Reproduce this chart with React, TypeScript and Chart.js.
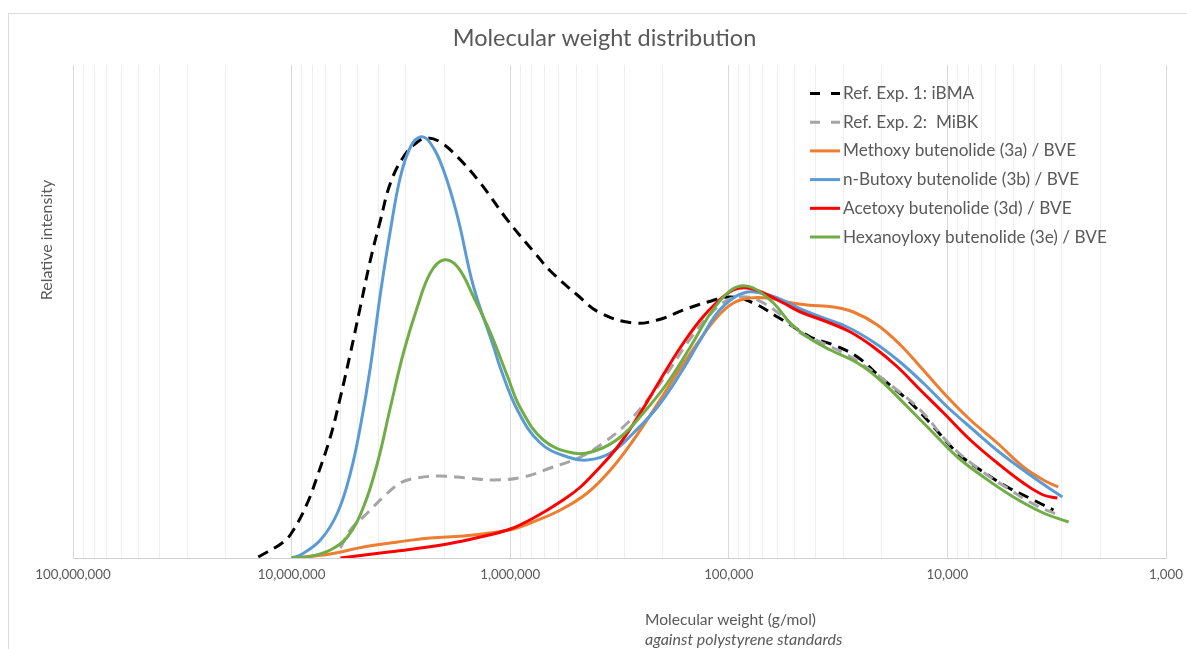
import React, { useEffect, useRef } from "react";
import { Chart, registerables } from "chart.js";

Chart.register(...registerables);

const chartTitle = "Molecular weight distribution";
const xAxisTitle = "Molecular weight (g/mol)";
const xAxisSubtitle = "against polystyrene standards";
const yAxisTitle = "Relative intensity";

const xDecades = [100000000, 10000000, 1000000, 100000, 10000, 1000];
const xTickLabels = ["100,000,000", "10,000,000", "1,000,000", "100,000", "10,000", "1,000"];
const minorMultipliers = [2, 3, 4, 5, 6, 7, 8, 9];

const seriesNames = [
  "Ref. Exp. 1: iBMA",
  "Ref. Exp. 2:  MiBK",
  "Methoxy butenolide (3a) / BVE",
  "n-Butoxy butenolide (3b) / BVE",
  "Acetoxy butenolide (3d) / BVE",
  "Hexanoyloxy butenolide (3e) / BVE",
];
const seriesColors = ["#000000", "#A5A5A5", "#ED7D31", "#5B9BD5", "#FF0000", "#70AD47"];
const seriesDashed = [true, true, false, false, false, false];

// Ref. Exp. 1: iBMA
const ref1MW = [1.42e7, 1.09e7, 9.81e6, 8.47e6, 7.54e6, 6.65e6, 5.98e6, 5.38e6, 4.85e6, 4.36e6, 3.92e6, 3.53e6, 3.08e6, 2.66e6, 2.39e6, 2.09e6, 1.74e6, 1.37e6, 1.03e6, 7.51e5, 6.55e5, 4.93e5, 3.87e5, 2.73e5, 2.12e5, 1.61e5, 1.25e5, 9.83e4, 7.72e4, 5.99e4, 5.4e4, 4.23e4, 3.32e4, 2.58e4, 2.03e4, 1.52e4, 1.2e4, 9.0e3, 7.07e3, 5.32e3, 4.04e3, 3.27e3];
const ref1Int = [1, 16, 28, 55, 85, 121, 161, 205, 251, 298, 338, 375, 401, 416, 420, 416, 401, 375, 338, 302, 287, 263, 245, 235, 238, 248, 256, 261, 255, 241, 235, 221, 213, 201, 181, 158, 135, 105, 88, 71, 58, 48];

// Ref. Exp. 2: MiBK
const ref2MW = [5.98e6, 5.38e6, 4.5e6, 3.8e6, 3.18e6, 2.66e6, 2.09e6, 1.57e6, 1.19e6, 8.7e5, 6.55e5, 4.77e5, 3.75e5, 2.91e5, 2.36e5, 1.91e5, 1.55e5, 1.25e5, 1.015e5, 8.22e4, 6.94e4, 5.63e4, 4.7e4, 3.81e4, 2.87e4, 2.25e4, 1.77e4, 1.33e4, 9.69e3, 7.07e3, 5.15e3, 3.96e3, 3.11e3];
const ref2Int = [10, 28, 45, 61, 75, 80, 82, 80, 78, 81, 90, 101, 115, 135, 158, 185, 215, 241, 258, 261, 255, 241, 225, 216, 203, 188, 171, 148, 113, 88, 68, 53, 43];

// Methoxy butenolide (3a) / BVE
const methoxyMW = [1.0e7, 6.65e6, 4.69e6, 3.28e6, 2.32e6, 1.64e6, 1.14e6, 9.67e5, 8.08e5, 5.89e5, 4.44e5, 3.48e5, 2.73e5, 2.21e5, 1.72e5, 1.39e5, 1.13e5, 9.53e4, 7.97e4, 6.66e4, 5.4e4, 4.37e4, 3.32e4, 2.69e4, 2.09e4, 1.64e4, 1.29e4, 1.0e4, 7.85e3, 5.91e3, 4.49e3, 3.64e3, 3.11e3];
const methoxyInt = [0, 4, 11, 16, 20, 22, 26, 29, 35, 48, 65, 88, 118, 148, 185, 215, 241, 255, 260, 260, 256, 253, 251, 246, 233, 213, 188, 161, 138, 115, 91, 78, 71];

// n-Butoxy butenolide (3b) / BVE
const butoxyMW = [1.0e7, 9.11e6, 7.38e6, 6.17e6, 5.38e6, 4.85e6, 4.36e6, 3.92e6, 3.53e6, 3.18e6, 2.86e6, 2.58e6, 2.32e6, 2.02e6, 1.74e6, 1.47e6, 1.19e6, 1.109e6, 9.27e5, 7.28e5, 5.47e5, 4.44e5, 3.48e5, 2.73e5, 2.12e5, 1.66e5, 1.35e5, 1.13e5, 9.53e4, 8.22e4, 7.17e4, 5.99e4, 4.7e4, 3.69e4, 2.87e4, 2.18e4, 1.69e4, 1.29e4, 1.0e4, 7.6e3, 5.72e3, 4.31e3, 3.49e3, 2.98e3];
const butoxyInt = [0, 3, 18, 45, 85, 131, 191, 265, 328, 381, 411, 421, 415, 388, 341, 271, 211, 190, 148, 115, 101, 98, 105, 125, 151, 185, 218, 245, 260, 266, 265, 260, 249, 240, 231, 216, 198, 175, 151, 128, 105, 85, 71, 61];

// Acetoxy butenolide (3d) / BVE
const acetoxyMW = [5.98e6, 3.92e6, 2.77e6, 1.94e6, 1.37e6, 9.98e5, 7.83e5, 6.76e5, 5.47e5, 4.77e5, 4.16e5, 3.23e5, 2.54e5, 2.06e5, 1.66e5, 1.35e5, 1.13e5, 9.53e4, 8.22e4, 6.94e4, 5.63e4, 4.7e4, 3.54e4, 2.78e4, 2.18e4, 1.69e4, 1.33e4, 1.04e4, 7.85e3, 5.91e3, 4.49e3, 3.64e3, 3.14e3];
const acetoxyInt = [0, 5, 9, 14, 21, 29, 40, 48, 61, 71, 84, 111, 145, 178, 211, 238, 256, 268, 270, 265, 255, 246, 236, 226, 211, 191, 168, 145, 118, 95, 75, 63, 60];

// Hexanoyloxy butenolide (3e) / BVE
const hexanoylMW = [1.0e7, 8.47e6, 6.65e6, 5.56e6, 4.69e6, 4.05e6, 3.53e6, 3.08e6, 2.66e6, 2.32e6, 2.02e6, 1.74e6, 1.47e6, 1.23e6, 1.03e6, 8.98e5, 7.05e5, 5.14e5, 3.99e5, 3.13e5, 2.46e5, 1.91e5, 1.5e5, 1.21e5, 1.015e5, 8.85e4, 7.72e4, 6.25e4, 5.23e4, 4.37e4, 3.43e4, 2.58e4, 2.03e4, 1.52e4, 1.16e4, 9.0e3, 6.84e3, 4.99e3, 3.64e3, 2.79e3];
const hexanoylInt = [0, 1, 8, 21, 51, 95, 151, 205, 251, 285, 298, 291, 261, 225, 182, 150, 118, 105, 108, 121, 145, 175, 211, 245, 265, 272, 270, 255, 235, 221, 208, 195, 178, 151, 125, 101, 81, 61, 45, 36];

const seriesMW = [ref1MW, ref2MW, methoxyMW, butoxyMW, acetoxyMW, hexanoylMW];
const seriesInt = [ref1Int, ref2Int, methoxyInt, butoxyInt, acetoxyInt, hexanoylInt];

const FONT = "Lato, 'Open Sans', sans-serif";
const TEXT_COLOR = "#595959";
const DASH = [11, 7];

const textPlugin = {
  id: "customTexts",
  afterDraw(chart: any) {
    const ctx = chart.ctx as CanvasRenderingContext2D;
    ctx.save();
    ctx.fillStyle = TEXT_COLOR;
    ctx.textBaseline = "middle";

    // Title
    ctx.textAlign = "center";
    ctx.font = `23.5px ${FONT}`;
    ctx.fillText(chartTitle, 595.5, 24);

    // Y axis title
    ctx.save();
    ctx.translate(38, 226);
    ctx.rotate(-Math.PI / 2);
    ctx.font = `16px ${FONT}`;
    ctx.fillText(yAxisTitle, 0, 0);
    ctx.restore();

    // X axis titles
    ctx.textAlign = "left";
    ctx.font = `15.6px ${FONT}`;
    ctx.fillText(xAxisTitle, 636, 606);
    ctx.font = `italic 16px ${FONT}`;
    ctx.fillText(xAxisSubtitle, 636, 625.5);

    // Legend
    const ds = chart.data.datasets;
    ctx.font = `17.2px ${FONT}`;
    for (let i = 0; i < ds.length; i++) {
      const y = 79.5 + 28.7 * i;
      ctx.save();
      ctx.strokeStyle = ds[i].borderColor;
      ctx.lineWidth = 3;
      ctx.setLineDash(seriesDashed[i] ? [10, 11] : []);
      ctx.beginPath();
      ctx.moveTo(801, y);
      ctx.lineTo(831, y);
      ctx.stroke();
      ctx.restore();
      ctx.fillStyle = TEXT_COLOR;
      ctx.fillText(ds[i].label, 834, y);
    }
    ctx.restore();
  },
};

export default function App() {
  const canvasRef = useRef<HTMLCanvasElement | null>(null);

  useEffect(() => {
    if (!canvasRef.current) return;
    const gridValues: number[] = [...xDecades];
    xDecades.slice(1).forEach((d) => minorMultipliers.forEach((m) => gridValues.push(d * m)));

    const datasets = seriesNames.map((name, i) => ({
      label: name,
      data: seriesMW[i].map((mw, j) => ({ x: mw, y: seriesInt[i][j] })),
      borderColor: seriesColors[i],
      backgroundColor: seriesColors[i],
      borderWidth: 3,
      borderDash: seriesDashed[i] ? DASH : [],
      pointRadius: 0,
      tension: 0.4,
      fill: false,
      order: seriesNames.length - i,
    }));

    const chart = new Chart(canvasRef.current, {
      type: "line",
      data: { datasets },
      options: {
        animation: false,
        responsive: false,
        devicePixelRatio: 1,
        layout: { padding: { left: 64, right: 21, top: 51, bottom: 41 } },
        plugins: {
          legend: { display: false },
          title: { display: false },
          tooltip: { enabled: false },
        },
        scales: {
          x: {
            type: "logarithmic",
            reverse: true,
            min: 1000,
            max: 100000000,
            afterBuildTicks: (scale: any) => {
              scale.ticks = gridValues.map((v) => ({ value: v }));
            },
            afterFit: (scale: any) => {
              scale.height = 50;
            },
            ticks: {
              autoSkip: false,
              maxRotation: 0,
              minRotation: 0,
              padding: 9,
              color: TEXT_COLOR,
              font: { family: FONT, size: 13.3 },
              callback: (value: any) => {
                const idx = xDecades.indexOf(Number(value));
                return idx >= 0 ? xTickLabels[idx] : "";
              },
            },
            grid: {
              drawTicks: false,
              lineWidth: 1,
              color: (c: any) =>
                c.tick && xDecades.indexOf(c.tick.value) >= 0 ? "#d9d9d9" : "#eeeeee",
            },
            border: { display: true, color: "#d0d0d0", width: 1 },
          },
          y: {
            display: false,
            min: 0,
            max: 493,
          },
        },
      },
      plugins: [textPlugin],
    });
    return () => chart.destroy();
  }, []);

  return (
    <div
      style={{
        position: "absolute",
        left: 8,
        top: 13,
        width: 1179,
        height: 636,
        borderTop: "1px solid #d9d9d9",
        borderLeft: "1px solid #d9d9d9",
        boxSizing: "border-box",
        background: "#ffffff",
      }}
    >
      <canvas ref={canvasRef} width={1178} height={635} style={{ display: "block" }} />
    </div>
  );
}
